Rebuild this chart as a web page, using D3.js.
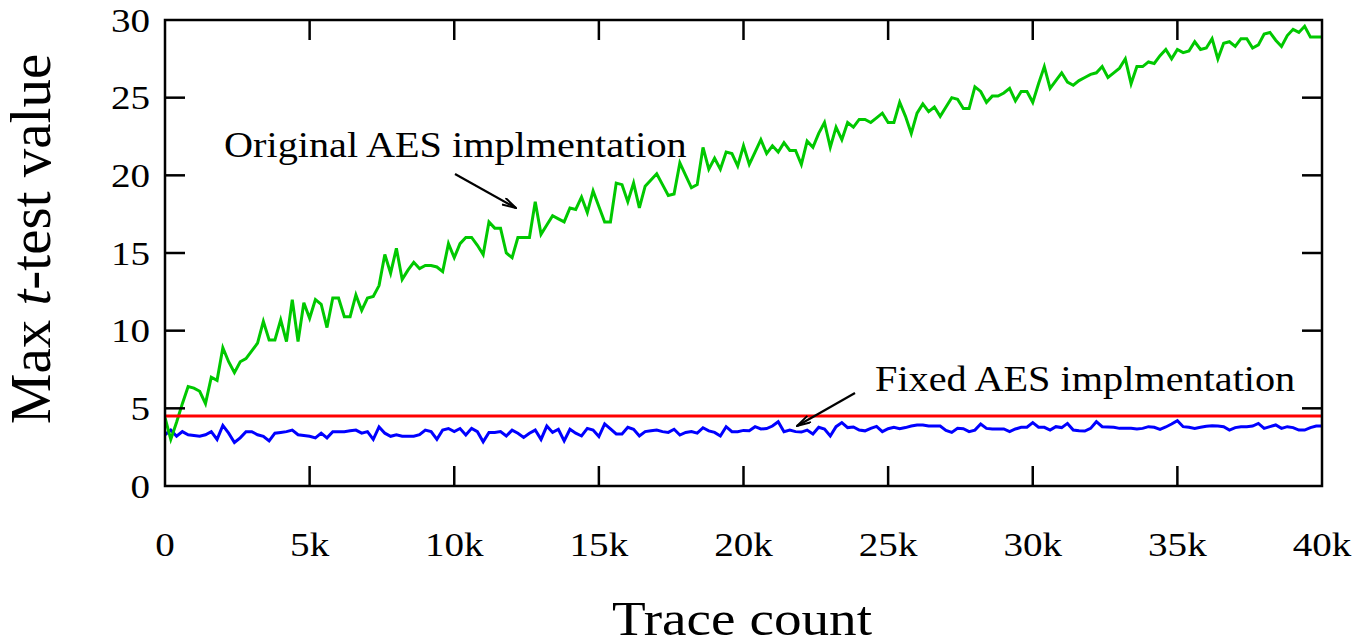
<!DOCTYPE html>
<html>
<head>
<meta charset="utf-8">
<script src="https://cdn.jsdelivr.net/npm/d3@7"></script>
<style>
  html, body { margin: 0; padding: 0; background: #fff; }
  svg { display: block; }
  text { font-family: "Liberation Serif", "Times New Roman", serif; fill: #000; }
</style>
</head>
<body>
<svg id="chart" width="1356" height="644"></svg>
<script>
// Sampling grid: one measurement every 200 traces, 0 .. 40k
const traceCounts = d3.range(0, 40001, 200);

// Max |t| for the unprotected AES implementation
const originalT = [
  4.4, 3.0, 4.1, 5.3, 6.4, 6.3, 6.1, 5.3, 7.0, 6.8,
  8.9, 8.0, 7.3, 8.0, 8.2, 8.7, 9.2, 10.6, 9.4, 9.4,
  10.7, 9.3, 12.0, 9.3, 11.8, 10.8, 12.0, 11.7, 10.2, 12.1,
  12.1, 10.9, 10.9, 12.3, 11.3, 12.1, 12.2, 12.9, 14.9, 13.7,
  15.3, 13.3, 13.9, 14.4, 14.0, 14.2, 14.2, 14.1, 13.8, 15.6,
  14.7, 15.6, 16.0, 16.0, 15.5, 14.9, 17.0, 16.6, 16.6, 15.0,
  14.7, 16.0, 16.0, 16.0, 18.3, 16.2, 16.8, 17.4, 17.2, 17.0,
  17.9, 17.8, 18.6, 17.6, 19.0, 18.0, 17.0, 17.0, 19.5, 19.4,
  18.3, 19.5, 17.9, 19.3, 19.7, 20.1, 19.4, 18.7, 18.8, 20.8,
  20.0, 19.2, 19.4, 21.8, 20.4, 21.1, 20.4, 21.5, 21.4, 20.6,
  21.9, 20.7, 21.5, 22.3, 21.4, 21.9, 21.5, 22.1, 21.6, 21.6,
  20.7, 22.2, 21.8, 22.7, 23.4, 21.8, 23.1, 22.3, 23.4, 23.1,
  23.6, 23.6, 23.4, 23.7, 24.0, 23.4, 23.4, 24.7, 23.8, 22.7,
  24.0, 24.6, 24.1, 24.4, 23.8, 24.4, 25.0, 24.9, 24.3, 24.3,
  25.7, 25.4, 24.7, 25.1, 25.1, 25.3, 25.6, 24.8, 25.4, 25.4,
  24.7, 25.9, 27.0, 25.6, 26.1, 26.6, 26.0, 25.8, 26.1, 26.3,
  26.5, 26.6, 27.0, 26.3, 26.6, 26.9, 27.5, 25.9, 27.0, 27.0,
  27.3, 27.2, 27.7, 28.1, 27.5, 28.1, 27.9, 28.0, 28.6, 28.1,
  28.2, 28.8, 27.5, 28.5, 28.6, 28.3, 28.8, 28.8, 28.2, 28.4,
  29.1, 29.2, 28.7, 28.3, 29.0, 29.4, 29.2, 29.6, 28.9, 28.9,
  28.9
];

// Max |t| for the fixed AES implementation
const fixedT = [
  3.3, 3.6, 3.2, 3.5, 3.3, 3.25, 3.2, 3.3, 3.5, 3.0,
  3.9, 3.4, 2.8, 3.1, 3.5, 3.5, 3.3, 3.2, 2.9, 3.4,
  3.45, 3.5, 3.6, 3.3, 3.25, 3.2, 3.1, 3.4, 3.1, 3.5,
  3.5, 3.5, 3.55, 3.6, 3.4, 3.5, 3.0, 3.8, 3.4, 3.2,
  3.3, 3.2, 3.2, 3.2, 3.3, 3.6, 3.5, 3.0, 3.6, 3.7,
  3.5, 3.7, 3.28, 3.71, 3.5, 2.85, 3.45, 3.45, 3.5, 3.22,
  3.6, 3.4, 3.13, 3.4, 3.6, 3.0, 3.86, 3.45, 3.65, 2.9,
  3.65, 3.4, 3.22, 3.71, 3.6, 3.18, 4.0, 3.67, 3.35, 3.35,
  3.78, 3.65, 3.22, 3.5, 3.55, 3.6, 3.5, 3.45, 3.65, 3.28,
  3.45, 3.5, 3.4, 3.75, 3.55, 3.45, 3.22, 3.82, 3.5, 3.5,
  3.58, 3.56, 3.82, 3.67, 3.7, 3.86, 4.14, 3.5, 3.6, 3.5,
  3.47, 3.6, 3.35, 3.78, 3.67, 3.22, 3.82, 4.08, 3.76, 3.8,
  3.6, 3.55, 3.71, 3.84, 3.5, 3.69, 3.78, 3.69, 3.76, 3.86,
  3.93, 3.93, 3.86, 3.86, 3.86, 3.58, 3.45, 3.71, 3.69, 3.5,
  3.6, 3.99, 3.71, 3.67, 3.67, 3.67, 3.5, 3.67, 3.78, 3.78,
  4.08, 3.78, 3.78, 3.6, 3.82, 3.76, 4.03, 3.6, 3.56, 3.54,
  3.71, 4.14, 3.82, 3.8, 3.78, 3.71, 3.71, 3.71, 3.67, 3.71,
  3.82, 3.78, 3.65, 3.8, 3.99, 4.21, 3.82, 3.78, 3.71, 3.78,
  3.84, 3.88, 3.86, 3.82, 3.6, 3.76, 3.82, 3.82, 3.86, 4.03,
  3.71, 3.82, 3.93, 3.71, 3.82, 3.76, 3.6, 3.6, 3.76, 3.86,
  3.86
];

// Detection threshold for the t-test
const threshold = 4.5;

const xTickValues = [0, 5000, 10000, 15000, 20000, 25000, 30000, 35000, 40000];
const xTickLabels = ["0", "5k", "10k", "15k", "20k", "25k", "30k", "35k", "40k"];
const yTickValues = [0, 5, 10, 15, 20, 25, 30];

const xTitle = "Trace count";
const originalLabel = "Original AES implmentation";
const fixedLabel = "Fixed AES implmentation";

const svg = d3.select("#chart");
const plot = { left: 165, right: 1322, top: 20, bottom: 486 };
const stretch = 1.15;   // glyphs are set slightly wide
const tickLen = 20;

const x = d3.scaleLinear().domain([0, 40000]).range([plot.left, plot.right]);
const y = d3.scaleLinear().domain([0, 30]).range([plot.bottom, plot.top]);

const defs = svg.append("defs");
defs.append("marker")
  .attr("id", "arrowhead")
  .attr("viewBox", "0 0 16 9")
  .attr("refX", 15).attr("refY", 4.5)
  .attr("markerWidth", 16).attr("markerHeight", 9)
  .attr("markerUnits", "userSpaceOnUse")
  .attr("orient", "auto")
  .append("path")
  .attr("d", "M1,0.8 L15,4.5 L1,8.2")
  .attr("fill", "none")
  .attr("stroke", "#000")
  .attr("stroke-width", 2);

defs.append("clipPath").attr("id", "plot-clip")
  .append("rect")
  .attr("x", plot.left).attr("y", plot.top)
  .attr("width", plot.right - plot.left).attr("height", plot.bottom - plot.top);

// Series
const line = d3.line().x((d, i) => x(traceCounts[i])).y(d => y(d));
const series = svg.append("g").attr("clip-path", "url(#plot-clip)");

series.append("path")
  .datum(fixedT)
  .attr("d", line)
  .attr("fill", "none")
  .attr("stroke", "#0000ff")
  .attr("stroke-width", 3);

series.append("path")
  .datum(originalT)
  .attr("d", line)
  .attr("fill", "none")
  .attr("stroke", "#00c800")
  .attr("stroke-width", 3);

series.append("line")
  .attr("x1", x(0)).attr("x2", x(40000))
  .attr("y1", y(threshold)).attr("y2", y(threshold))
  .attr("stroke", "#ff0000")
  .attr("stroke-width", 3);

// Frame with inward ticks on all four sides
const axes = svg.append("g").attr("stroke", "#000").attr("stroke-width", 2.5);
axes.selectAll("line.xt-bottom").data(xTickValues.slice(1, -1)).enter().append("line")
  .attr("x1", d => x(d)).attr("x2", d => x(d))
  .attr("y1", plot.bottom).attr("y2", plot.bottom - tickLen);
axes.selectAll("line.xt-top").data(xTickValues.slice(1, -1)).enter().append("line")
  .attr("x1", d => x(d)).attr("x2", d => x(d))
  .attr("y1", plot.top).attr("y2", plot.top + tickLen);
axes.selectAll("line.yt-left").data(yTickValues.slice(1, -1)).enter().append("line")
  .attr("x1", plot.left).attr("x2", plot.left + tickLen)
  .attr("y1", d => y(d)).attr("y2", d => y(d));
axes.selectAll("line.yt-right").data(yTickValues.slice(1, -1)).enter().append("line")
  .attr("x1", plot.right).attr("x2", plot.right - tickLen)
  .attr("y1", d => y(d)).attr("y2", d => y(d));
axes.append("rect")
  .attr("x", plot.left).attr("y", plot.top)
  .attr("width", plot.right - plot.left).attr("height", plot.bottom - plot.top)
  .attr("fill", "none");

// Tick labels
const tickFont = 34;
svg.append("g").selectAll("text").data(yTickValues).enter().append("text")
  .attr("transform", d => `translate(${plot.left - 15},${y(d)}) scale(${stretch},1)`)
  .attr("dy", "0.34em")
  .attr("text-anchor", "end")
  .attr("font-size", tickFont)
  .text(d => String(d));

svg.append("g").selectAll("text").data(xTickValues).enter().append("text")
  .attr("transform", d => `translate(${x(d)},${plot.bottom + 70}) scale(${stretch},1)`)
  .attr("text-anchor", "middle")
  .attr("font-size", tickFont)
  .text((d, i) => xTickLabels[i]);

// Axis titles
svg.append("text")
  .attr("transform", `translate(742,635) scale(${stretch},1)`)
  .attr("text-anchor", "middle")
  .attr("font-size", 48)
  .text(xTitle);

const yTitle = svg.append("text")
  .attr("transform", "translate(50,239) rotate(-90)")
  .attr("text-anchor", "middle")
  .attr("font-size", 57);
yTitle.append("tspan").text("Max ");
yTitle.append("tspan").attr("font-style", "italic").text("t");
yTitle.append("tspan").text("-test value");

// Annotations
svg.append("text")
  .attr("transform", `translate(224,157) scale(${stretch},1)`)
  .attr("font-size", 35)
  .text(originalLabel);
svg.append("line")
  .attr("x1", 455).attr("y1", 174).attr("x2", 516).attr("y2", 208)
  .attr("stroke", "#000").attr("stroke-width", 2.2)
  .attr("marker-end", "url(#arrowhead)");

svg.append("text")
  .attr("transform", `translate(875,391) scale(${stretch},1)`)
  .attr("font-size", 35)
  .text(fixedLabel);
svg.append("line")
  .attr("x1", 855).attr("y1", 393).attr("x2", 797).attr("y2", 426)
  .attr("stroke", "#000").attr("stroke-width", 2.2)
  .attr("marker-end", "url(#arrowhead)");
</script>
</body>
</html>
